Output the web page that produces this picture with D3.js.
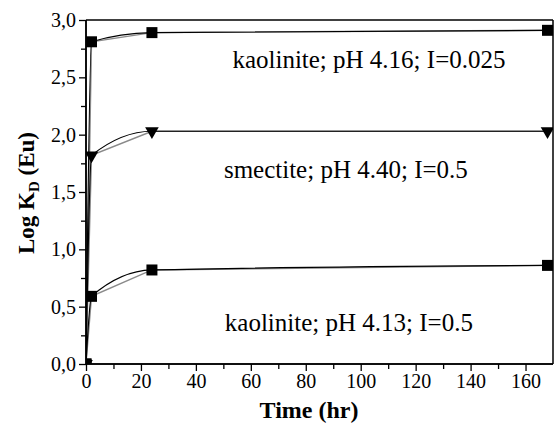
<!DOCTYPE html>
<html><head><meta charset="utf-8">
<script src="https://cdnjs.cloudflare.com/ajax/libs/d3/7.8.5/d3.min.js"></script>
<style>html,body{margin:0;padding:0;background:#fff}svg{display:block}
svg text{font-family:"Liberation Serif","Times New Roman",Times,serif !important;fill:#000}</style>
</head><body>
<script>
// ---- data ----
const timesHr = [0, 2, 24, 168];
const kaoliniteI0025 = [0, 2.81, 2.89, 2.91];
const smectiteI05 = [0, 1.82, 2.03, 2.03];
const kaoliniteI05 = [0, 0.59, 0.82, 0.86];
const seriesNames = ["kaolinite; pH 4.16; I=0.025", "smectite; pH 4.40; I=0.5", "kaolinite; pH 4.13; I=0.5"];
const seriesMarkers = ["square", "triangle", "square"];
const xTicks = [0, 20, 40, 60, 80, 100, 120, 140, 160];
const yTicks = [0, 0.5, 1.0, 1.5, 2.0, 2.5, 3.0];

// annotation anchors (data units)
const labelAnchors = [[103, 2.58], [94.6, 1.62], [95.7, 0.29]];

const W = 558, H = 423;
const m = {l: 86, r: 5, t: 20, b: 59};
const svg = d3.select("body").append("svg").attr("width", W).attr("height", H);
const x = d3.scaleLinear().domain([0, 170]).range([m.l, W - m.r]);
const y = d3.scaleLinear().domain([0, 3]).range([H - m.b, m.t]);

svg.append("clipPath").attr("id", "clip").append("rect")
  .attr("x", x(0)).attr("y", y(3)).attr("width", x(170) - x(0)).attr("height", y(0) - y(3));

const data = [kaoliniteI0025, smectiteI05, kaoliniteI05].map((vals, i) => ({
  name: seriesNames[i], marker: seriesMarkers[i], anchor: labelAnchors[i],
  pts: timesHr.map((t, j) => ({t, v: vals[j]}))
}));

const g = svg.append("g").attr("clip-path", "url(#clip)");
const lineLin = d3.line().x(d => x(d.t)).y(d => y(d.v));
const lineCurve = d3.line().x(d => x(d.t)).y(d => y(d.v)).curve(d3.curveMonotoneX);
data.forEach(s => {
  g.append("path").attr("d", lineLin(s.pts)).attr("fill", "none").attr("stroke", "#8a8a8a").attr("stroke-width", 1.4);
  g.append("path").attr("d", lineCurve(s.pts)).attr("fill", "none").attr("stroke", "#000").attr("stroke-width", 1.2);
});
const sq = d3.symbol().type(d3.symbolSquare).size(121);
const tri = d3.symbol().type(d3.symbolTriangle).size(80);
data.forEach(s => {
  g.selectAll(null).data(s.pts).enter().append("path")
    .attr("d", s.marker === "square" ? sq() : tri())
    .attr("transform", d => `translate(${x(d.t)},${y(d.v)})` + (s.marker === "triangle" ? " rotate(180)" : ""))
    .attr("fill", "#000");
});

// frame
svg.append("line").attr("x1", x(0)).attr("x2", x(170)).attr("y1", y(3)).attr("y2", y(3)).attr("stroke", "#000").attr("stroke-width", 1.5);
svg.append("line").attr("x1", x(170)).attr("x2", x(170)).attr("y1", y(3)).attr("y2", y(0)).attr("stroke", "#000").attr("stroke-width", 1.5);

// axes
const fmt = d => d3.format(".1f")(d).replace(".", ",");
const xAx = svg.append("g").attr("transform", `translate(0,${y(0)})`)
  .call(d3.axisBottom(x).tickValues(xTicks).tickSize(7).tickPadding(3).tickFormat(d3.format("d")));
const xMinor = svg.append("g").attr("transform", `translate(0,${y(0)})`)
  .call(d3.axisBottom(x).tickValues(d3.range(10, 170, 20)).tickSize(5).tickFormat(""));
const yAx = svg.append("g").attr("transform", `translate(${x(0)},0)`)
  .call(d3.axisLeft(y).tickValues(yTicks).tickSize(7).tickPadding(3).tickFormat(fmt));
const yMinor = svg.append("g").attr("transform", `translate(${x(0)},0)`)
  .call(d3.axisLeft(y).tickValues(d3.range(0.25, 3, 0.5)).tickSize(5).tickFormat(""));
[xAx, xMinor].forEach(a => a.select(".domain").attr("d", `M${x(0)},0H${x(170)}`));
[yAx, yMinor].forEach(a => a.select(".domain").attr("d", `M0,${y(0)}V${y(3)}`));
[xAx, xMinor, yAx, yMinor].forEach(a => {
  a.select(".domain").attr("stroke-width", 1.5);
  a.selectAll(".tick line").attr("stroke-width", 1.3);
  a.selectAll("text").style("font-size", "20px");
});

// series labels
data.forEach(s => {
  svg.append("text").attr("x", x(s.anchor[0])).attr("y", y(s.anchor[1])).attr("text-anchor", "middle")
    .style("font-size", "25px").text(s.name);
});

// axis titles
svg.append("text").attr("x", 309).attr("y", 418).attr("text-anchor", "middle")
  .style("font-size", "24px").style("font-weight", "bold").text("Time (hr)");
const yt = svg.append("text").attr("transform", `translate(34,193) rotate(-90)`)
  .attr("text-anchor", "middle").style("font-size", "23px").style("font-weight", "bold");
yt.append("tspan").text("Log K");
yt.append("tspan").style("font-size", "15px").attr("dy", 5).text("D");
yt.append("tspan").attr("dy", -5).text(" (Eu)");
</script>
</body></html>
